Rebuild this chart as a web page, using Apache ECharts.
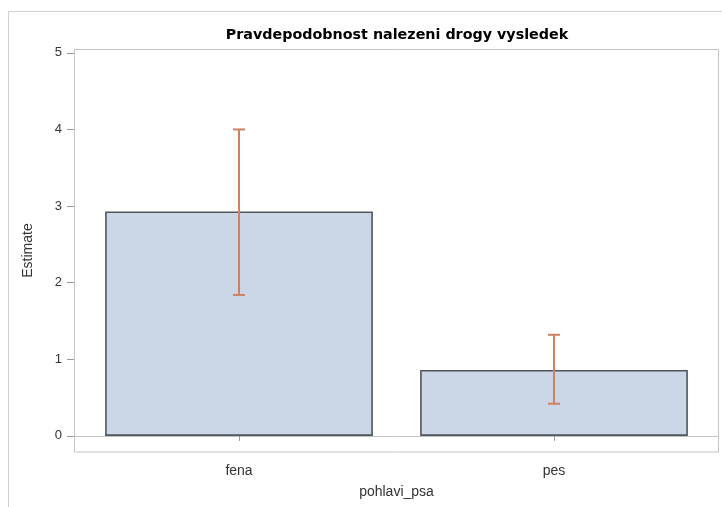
<!DOCTYPE html>
<html>
<head>
<meta charset="utf-8">
<script src="https://cdn.jsdelivr.net/npm/echarts@6/dist/echarts.min.js"></script>
<style>
html,body{margin:0;padding:0;background:#fff;}
#chart{width:722px;height:507px;}
</style>
</head>
<body>
<div id="chart"></div>
<script>
// Category labels and estimates with confidence limits
const categories = ['fena', 'pes'];
const estimates = [2.93, 0.86];
const lowerCL = [1.84, 0.42];
const upperCL = [4.00, 1.32];
const yTicks = [0, 1, 2, 3, 4, 5];

const FONT = '"Liberation Sans", Arial, sans-serif';
const TITLE_FONT = '"DejaVu Sans", sans-serif';
const chart = echarts.init(document.getElementById('chart'), null, { renderer: 'canvas' });

const errorData = categories.map((c, i) => [i, lowerCL[i], upperCL[i]]);

const option = {
  animation: false,
  backgroundColor: '#fff',
  title: {
    text: 'Pravdepodobnost nalezeni drogy vysledek',
    left: 392, top: 23, textAlign: 'center',
    textStyle: { fontFamily: TITLE_FONT, fontSize: 14.3, fontWeight: 'bold', color: '#000' }
  },
  grid: { left: 81.5, right: 10.5, top: 49, bottom: 55 },
  xAxis: {
    type: 'category',
    data: categories,
    name: 'pohlavi_psa',
    nameLocation: 'middle',
    nameGap: 33,
    nameTextStyle: { fontFamily: FONT, fontSize: 14, color: '#333' },
    axisLine: { show: false },
    axisTick: { show: true, alignWithLabel: true, length: 5, lineStyle: { color: '#999' } },
    axisLabel: { fontFamily: FONT, fontSize: 14, color: '#333', margin: 12 },
    splitLine: { show: false }
  },
  yAxis: {
    type: 'value',
    min: -0.21, max: 5.05,
    offset: 7.5,
    name: 'Estimate',
    nameLocation: 'middle',
    nameGap: 39,
    nameTextStyle: { fontFamily: FONT, fontSize: 14, color: '#333' },
    axisLine: { show: false },
    axisTick: { show: true, length: 7, customValues: yTicks, lineStyle: { color: '#999' } },
    axisLabel: { fontFamily: FONT, fontSize: 13, color: '#333', margin: 12, customValues: yTicks },
    splitLine: { show: false }
  },
  series: [
    {
      type: 'bar',
      data: estimates,
      barWidth: '85%',
      itemStyle: { color: '#cbd6e6', borderColor: '#50565e', borderWidth: 1.6 },
      z: 2
    },
    {
      type: 'custom',
      data: errorData,
      z: 5,
      renderItem: function (params, api) {
        const x = api.value(0);
        const lo = api.coord([x, api.value(1)]);
        const hi = api.coord([x, api.value(2)]);
        const cap = 6;
        const style = { stroke: '#cf8164', lineWidth: 2 };
        return {
          type: 'group',
          children: [
            { type: 'line', shape: { x1: hi[0], y1: hi[1], x2: lo[0], y2: lo[1] }, style },
            { type: 'line', shape: { x1: hi[0] - cap, y1: hi[1], x2: hi[0] + cap, y2: hi[1] }, style },
            { type: 'line', shape: { x1: lo[0] - cap, y1: lo[1], x2: lo[0] + cap, y2: lo[1] }, style }
          ]
        };
      }
    }
  ]
};
chart.setOption(option);

// Plot frame, zero reference line and outer panel border
const zeroY = chart.convertToPixel({ yAxisIndex: 0 }, 0);
chart.setOption({
  graphic: [
    { type: 'line', shape: { x1: 8.5, y1: 11.5, x2: 722, y2: 11.5 }, style: { stroke: '#cfcfcf', lineWidth: 1 }, silent: true },
    { type: 'line', shape: { x1: 8.5, y1: 11.5, x2: 8.5, y2: 507 }, style: { stroke: '#cfcfcf', lineWidth: 1 }, silent: true },
    { type: 'rect', shape: { x: 74.5, y: 49.5, width: 644, height: 402.5 }, style: { fill: 'none', stroke: '#c4c4c4', lineWidth: 1 }, silent: true, z: 0 },
    { type: 'line', shape: { x1: 74.5, y1: Math.round(zeroY) + 0.5, x2: 718.5, y2: Math.round(zeroY) + 0.5 }, style: { stroke: '#c4c4c4', lineWidth: 1 }, silent: true, z: 0 }
  ]
});
</script>
</body>
</html>
